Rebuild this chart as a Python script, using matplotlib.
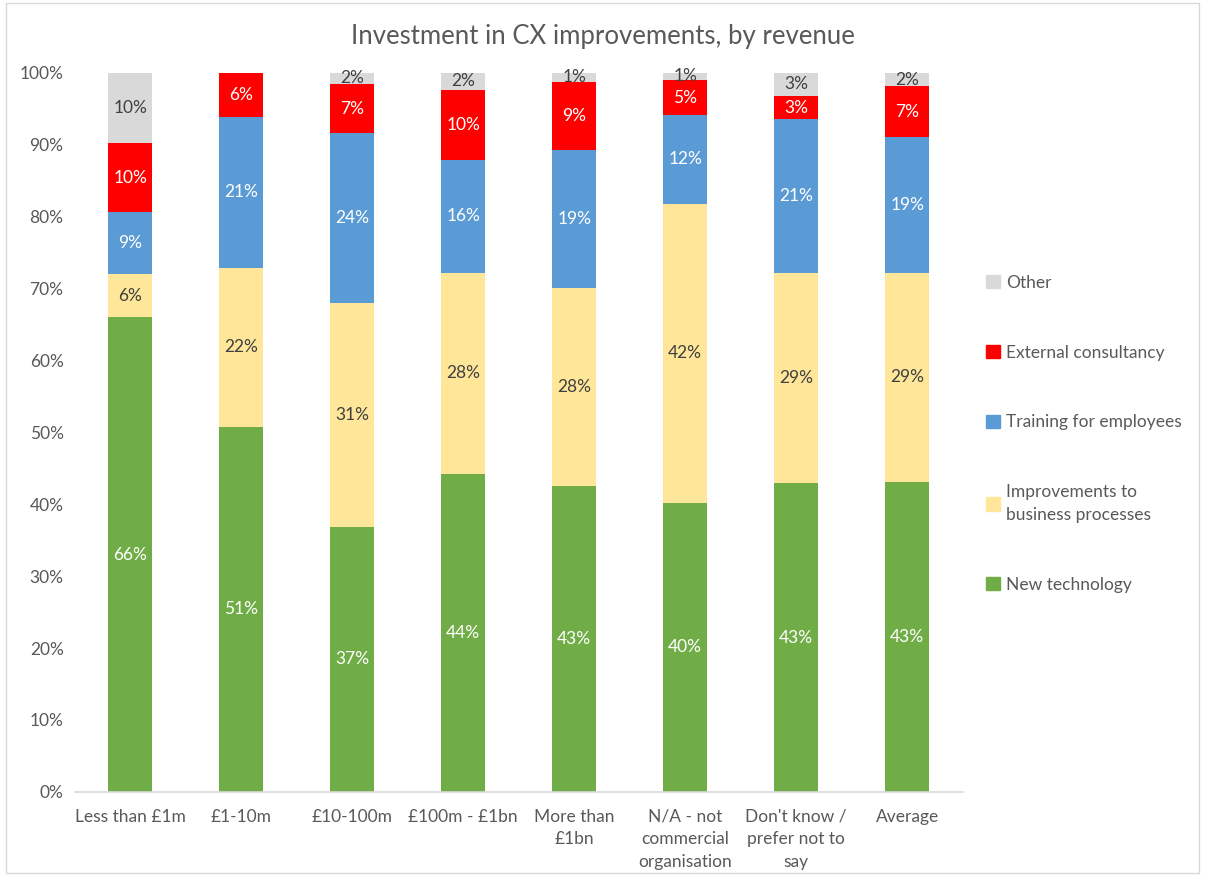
import matplotlib
matplotlib.use("Agg")
import matplotlib.pyplot as plt
import matplotlib.patches as mpatches
import numpy as np

plt.rcParams['font.family'] = ['Lato', 'DejaVu Sans']

categories = ["Less than £1m", "£1-10m", "£10-100m", "£100m - £1bn",
              "More than\n£1bn", "N/A - not\ncommercial\norganisation",
              "Don't know /\nprefer not to\nsay", "Average"]

new_tech = [66.0, 50.8, 36.9, 44.2, 42.6, 40.2, 42.9, 43.1]
processes = [6.0, 22.1, 31.1, 28.0, 27.5, 41.6, 29.3, 29.1]
training = [8.6, 21.0, 23.6, 15.7, 19.2, 12.3, 21.3, 18.9]
consultancy = [9.6, 6.1, 6.8, 9.7, 9.4, 4.9, 3.3, 7.0]
other = [9.8, 0.0, 1.7, 2.4, 1.3, 1.0, 3.2, 1.9]

series = [
    ("New technology", new_tech, "#70ad47", "white"),
    ("Improvements to\nbusiness processes", processes, "#ffe699", "#404040"),
    ("Training for employees", training, "#5b9bd5", "white"),
    ("External consultancy", consultancy, "#ff0000", "white"),
    ("Other", other, "#d9d9d9", "#404040"),
]

fig = plt.figure(figsize=(12.05, 8.76), dpi=100)
ax = fig.add_axes([0.062, 0.096, 0.737, 0.821])

x = np.arange(len(categories))
bottom = np.zeros(len(categories))
handles = []
for name, vals, color, tcolor in series:
    vals = np.array(vals)
    ax.bar(x, vals, 0.4, bottom=bottom, color=color)
    for xi, b, v in zip(x, bottom, vals):
        if v > 0:
            ax.text(xi, b + v / 2, "{:.0f}%".format(v), ha="center", va="center",
                    color=tcolor, fontsize=12.5)
    bottom += vals
    handles.append(mpatches.Patch(color=color, label=name))

ax.set_xlim(-0.5, len(categories) - 0.5)
ax.set_ylim(0, 100)
ax.set_yticks(np.arange(0, 101, 10))
ax.set_yticklabels(["{}%".format(t) for t in range(0, 101, 10)])
ax.set_xticks(x)
ax.set_xticklabels(categories, va="top", linespacing=1.5)
ax.tick_params(axis="both", length=0, labelsize=12.5, colors="#595959")
ax.tick_params(axis="x", pad=12)
ax.tick_params(axis="y", pad=8)
for s in ["top", "right", "left"]:
    ax.spines[s].set_visible(False)
ax.spines["bottom"].set_color("#d9d9d9")
ax.spines["bottom"].set_linewidth(1.2)

fig.text(0.5, 0.958, "Investment in CX improvements, by revenue", ha="center",
         va="center", fontsize=18.5, color="#595959")

leg = fig.legend(handles=handles[::-1], loc="center left",
                 bbox_to_anchor=(0.805, 0.505), frameon=False, fontsize=12.5,
                 handlelength=0.8, handleheight=0.8, handletextpad=0.4,
                 labelspacing=3.1, labelcolor="#595959")
for t in leg.get_texts():
    t.set_linespacing(1.5)

fig.patches.append(mpatches.Rectangle((0.005, 0.003), 0.99, 0.994, transform=fig.transFigure,
                                      fill=False, edgecolor="#d9d9d9", linewidth=1))

plt.savefig("out.png", dpi=100)
